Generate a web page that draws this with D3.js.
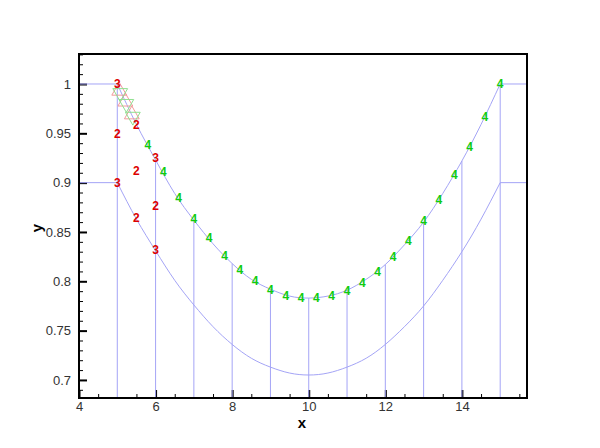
<!DOCTYPE html>
<html>
<head>
<meta charset="utf-8">
<script src="https://cdn.jsdelivr.net/npm/d3@7"></script>
<style>
  html, body { margin: 0; padding: 0; background: #fff; }
  svg { display: block; }
</style>
</head>
<body>
<svg id="chart" width="600" height="448"></svg>
<script>
// ---- data ----
// upper boundary curve
const upperX = [5, 5.5, 6, 6.5, 7, 7.5, 8, 8.5, 9, 9.5, 10, 10.5, 11, 11.5, 12, 12.5, 13, 13.5, 14, 14.5, 15];
const upperY = [1.0, 0.959, 0.923, 0.889, 0.862, 0.838, 0.818, 0.802, 0.792, 0.785, 0.783, 0.785, 0.791, 0.802, 0.817, 0.837, 0.860, 0.889, 0.922, 0.959, 1.0];
// lower boundary curve
const lowerX = [5, 5.5, 6, 6.5, 7, 7.5, 8, 8.5, 9, 9.5, 10, 10.5, 11, 11.5, 12, 12.5, 13, 13.5, 14, 14.5, 15];
const lowerY = [0.900, 0.863, 0.831, 0.801, 0.776, 0.754, 0.736, 0.722, 0.713, 0.707, 0.705, 0.707, 0.713, 0.722, 0.736, 0.754, 0.775, 0.801, 0.830, 0.863, 0.900];
// vertical mesh lines (x, top y)
const meshX = [5, 6, 7, 8, 9, 10, 11, 12, 13, 14, 15];
const meshTop = [1.0, 0.923, 0.862, 0.818, 0.792, 0.783, 0.791, 0.817, 0.860, 0.922, 1.0];
// horizontal inlet / outlet lines
const inletY = [1.0, 0.9];
const inletX = [4, 5];
const outletX = [15, 15.7];
// zone 2 symbols ("2")
const zone2X = [5, 5.5, 5.5, 5.5, 6];
const zone2Y = [0.950, 0.959, 0.912, 0.864, 0.877];
// zone 3 symbols ("3")
const zone3X = [5, 5, 6, 6];
const zone3Y = [1.0, 0.9, 0.925, 0.832];
// zone 4 symbols ("4")
const zone4X = [5.8, 6.2, 6.6, 7.0, 7.4, 7.8, 8.2, 8.6, 9.0, 9.4, 9.8, 10.2, 10.6, 11.0, 11.4, 11.8, 12.2, 12.6, 13.0, 13.4, 13.8, 14.2, 14.6, 15.0];
const zone4Y = [0.938, 0.911, 0.885, 0.863, 0.844, 0.826, 0.812, 0.801, 0.792, 0.785, 0.783, 0.783, 0.785, 0.790, 0.799, 0.810, 0.825, 0.841, 0.861, 0.883, 0.908, 0.936, 0.967, 1.0];
// triangle symbols near the inlet corner
const triX = [5.05, 5.21, 5.38];
const triY = [0.993, 0.982, 0.969];
// axes
const xMajor = [4, 6, 8, 10, 12, 14];
const xMinor = [4.5, 5.5, 6.5, 7.5, 8.5, 9.5, 10.5, 11.5, 12.5, 13.5, 14.5, 15.5];
const yMajor = [0.7, 0.75, 0.8, 0.85, 0.9, 0.95, 1.0];
const yMinor = [0.69, 0.71, 0.72, 0.73, 0.74, 0.76, 0.77, 0.78, 0.79, 0.81, 0.82, 0.83, 0.84, 0.86, 0.87, 0.88, 0.89, 0.91, 0.92, 0.93, 0.94, 0.96, 0.97, 0.98, 0.99, 1.01, 1.02, 1.03];
const xDomain = [4, 15.7];
const yDomain = [0.6817, 1.0304];

// ---- layout ----
const L = 79, R = 527, T = 54, B = 398;
const svg = d3.select("#chart");
const x = d3.scaleLinear().domain(xDomain).range([L, R]);
const y = d3.scaleLinear().domain(yDomain).range([B, T]);

const fontTick = "'Liberation Sans', Arial, Helvetica, sans-serif";
const lineColor = "#a4a4f6";

// axes ticks
const gx = svg.append("g").attr("transform", `translate(0,${B})`)
  .call(d3.axisBottom(x).tickValues(xMajor).tickSizeInner(-8).tickSizeOuter(0).tickPadding(4).tickFormat(d3.format("d")));
const gxm = svg.append("g").attr("transform", `translate(0,${B})`)
  .call(d3.axisBottom(x).tickValues(xMinor).tickSizeInner(-4).tickSizeOuter(0).tickFormat(""));
const gy = svg.append("g").attr("transform", `translate(${L},0)`)
  .call(d3.axisLeft(y).tickValues(yMajor).tickSizeInner(-8).tickSizeOuter(0).tickPadding(8).tickFormat(d => d3.format("~g")(d)));
const gym = svg.append("g").attr("transform", `translate(${L},0)`)
  .call(d3.axisLeft(y).tickValues(yMinor).tickSizeInner(-4).tickSizeOuter(0).tickFormat(""));
[gx, gxm, gy, gym].forEach(g => {
  g.select(".domain").remove();
  g.selectAll(".tick line").attr("stroke", "#000").attr("stroke-width", 1);
  g.selectAll("text").attr("font-family", fontTick).attr("font-size", 13).attr("fill", "#333");
});
gx.selectAll(".tick line").attr("stroke-width", 2);
gy.selectAll(".tick line").attr("stroke-width", 2);

// clip for data
svg.append("clipPath").attr("id", "clip").append("rect")
  .attr("x", L).attr("y", T).attr("width", R - L).attr("height", B - T);
const plot = svg.append("g").attr("clip-path", "url(#clip)");

const line = d3.line().x(d => x(d[0])).y(d => y(d[1])).curve(d3.curveNatural);

// vertical mesh lines
plot.selectAll("line.mesh").data(meshX.map((v, i) => [v, meshTop[i]]))
  .join("line").attr("class", "mesh")
  .attr("x1", d => x(d[0])).attr("x2", d => x(d[0]))
  .attr("y1", y(yDomain[0])).attr("y2", d => y(d[1]))
  .attr("stroke", lineColor).attr("stroke-width", 1);

// horizontal inlet/outlet lines
inletY.forEach(v => {
  [inletX, outletX].forEach(seg => {
    plot.append("line")
      .attr("x1", x(seg[0])).attr("x2", x(seg[1]))
      .attr("y1", y(v)).attr("y2", y(v))
      .attr("stroke", lineColor).attr("stroke-width", 1);
  });
});

// curves
plot.append("path").datum(upperX.map((v, i) => [v, upperY[i]]))
  .attr("d", line).attr("fill", "none").attr("stroke", lineColor).attr("stroke-width", 1);
plot.append("path").datum(lowerX.map((v, i) => [v, lowerY[i]]))
  .attr("d", line).attr("fill", "none").attr("stroke", lineColor).attr("stroke-width", 1);

// triangles
const triSize = 95;
plot.selectAll("path.triR").data(triX.map((v, i) => [v, triY[i]]))
  .join("path").attr("class", "triR")
  .attr("d", d3.symbol(d3.symbolTriangle, triSize)())
  .attr("transform", d => `translate(${x(d[0])},${y(d[1])})`)
  .attr("fill", "none").attr("stroke", "#f29a9a").attr("stroke-width", 1);
plot.selectAll("path.triG").data(triX.map((v, i) => [v, triY[i]]))
  .join("path").attr("class", "triG")
  .attr("d", d3.symbol(d3.symbolTriangle, triSize)())
  .attr("transform", d => `translate(${x(d[0]) + 1},${y(d[1]) + 2}) rotate(180)`)
  .attr("fill", "none").attr("stroke", "#8fe08f").attr("stroke-width", 1);

// symbols as text
function symbols(xs, ys, label, color) {
  plot.append("g").selectAll("text").data(xs.map((v, i) => [v, ys[i]]))
    .join("text")
    .attr("x", d => x(d[0])).attr("y", d => y(d[1]))
    .attr("dy", "0.36em")
    .attr("text-anchor", "middle")
    .attr("font-family", fontTick).attr("font-weight", "bold").attr("font-size", 12)
    .attr("fill", color).text(label);
}
symbols(zone4X, zone4Y, "4", "#10cc10");
symbols(zone2X, zone2Y, "2", "#dd0000");
symbols(zone3X, zone3Y, "3", "#dd0000");

// frame
svg.append("rect").attr("x", L).attr("y", T).attr("width", R - L).attr("height", B - T)
  .attr("fill", "none").attr("stroke", "#000").attr("stroke-width", 2);

// axis titles
svg.append("text").attr("x", (L + R) / 2 - 1).attr("y", 428)
  .attr("text-anchor", "middle").attr("font-family", fontTick).attr("font-weight", "bold")
  .attr("font-size", 15).attr("fill", "#000").text("x");
svg.append("text").attr("transform", `translate(42,228) rotate(-90)`)
  .attr("text-anchor", "middle").attr("font-family", fontTick).attr("font-weight", "bold")
  .attr("font-size", 15).attr("fill", "#000").text("y");
</script>
</body>
</html>
